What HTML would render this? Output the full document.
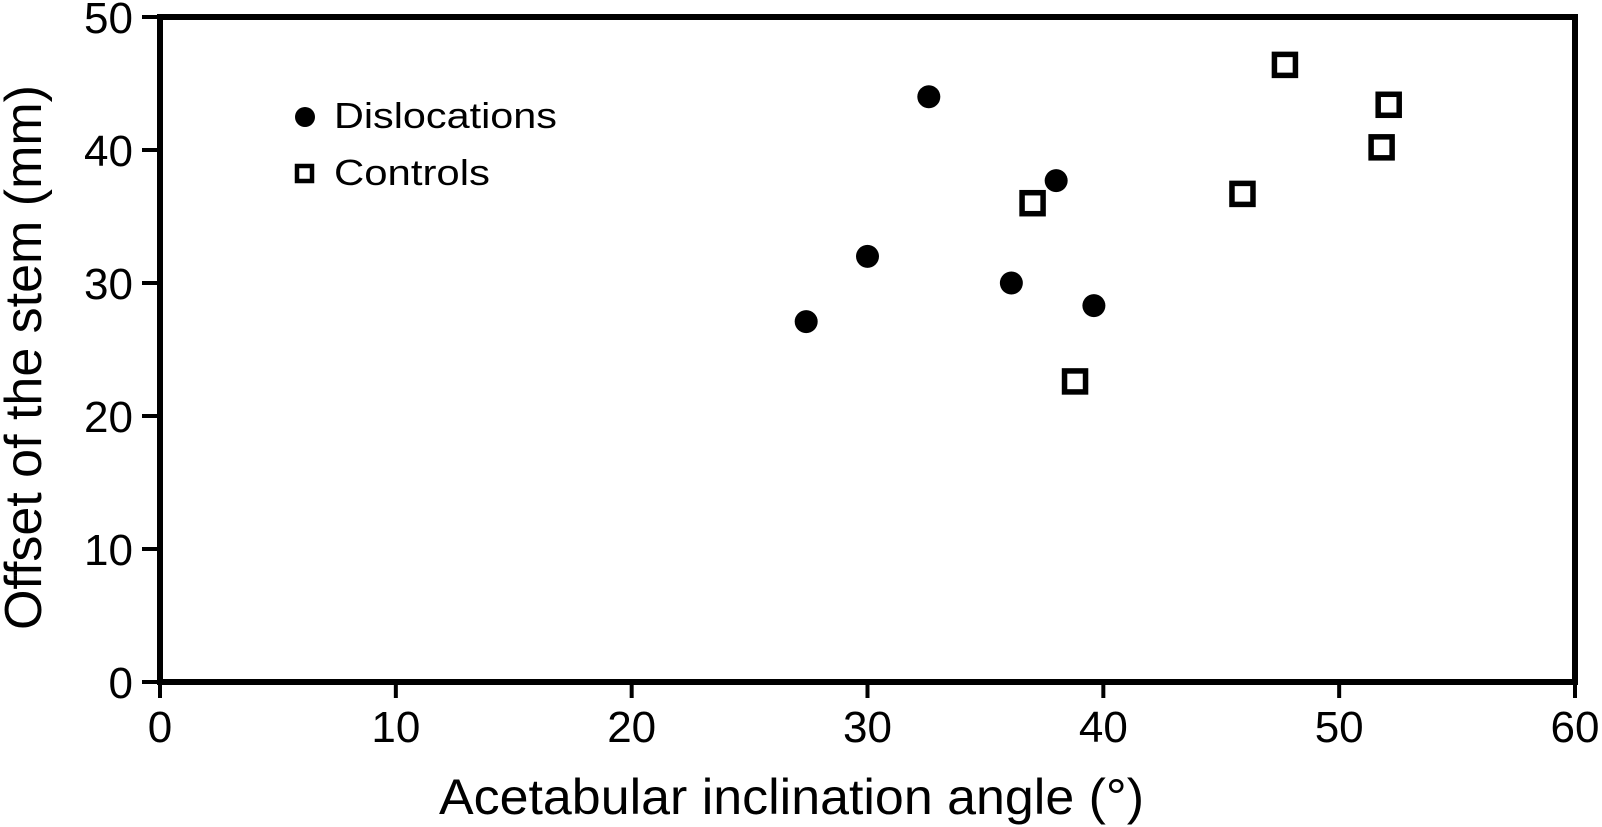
<!DOCTYPE html>
<html><head><meta charset="utf-8"><style>
html,body{margin:0;padding:0;background:#fff;}
svg{display:block;font-family:"Liberation Sans",Arial,sans-serif;}
</style></head><body>
<svg id="chart" width="1602" height="827" viewBox="0 0 1602 827" xmlns="http://www.w3.org/2000/svg">
<rect x="160" y="17" width="1415" height="665" fill="none" stroke="#000" stroke-width="6"/>
<g id="xticks"></g>
<g id="yticks"></g>
<text x="439" y="814" font-size="50" textLength="705" lengthAdjust="spacingAndGlyphs">Acetabular inclination angle (°)</text>
<text transform="translate(41,630) rotate(-90)" x="0" y="0" font-size="52" textLength="545" lengthAdjust="spacingAndGlyphs">Offset of the stem (mm)</text>
<g>
<circle cx="305" cy="117" r="10" fill="#000"/>
<text x="334" y="128" font-size="36" textLength="223" lengthAdjust="spacingAndGlyphs">Dislocations</text>
<rect x="297" y="166" width="15" height="15" fill="#fff" stroke="#000" stroke-width="4.5"/>
<text x="334" y="185" font-size="36" textLength="156" lengthAdjust="spacingAndGlyphs">Controls</text>
</g>
<g id="marks"></g>
</svg>
<script>
const xTicks = [0,10,20,30,40,50,60];
const yTicks = [0,10,20,30,40,50];
const dislocX = [32.6, 38.0, 30.0, 36.1, 27.4, 39.6];
const dislocY = [44.0, 37.7, 32.0, 30.0, 27.1, 28.3];
const controlX = [37.0, 38.8, 47.7, 52.1, 51.8, 45.9];
const controlY = [36.0, 22.6, 46.4, 43.4, 40.2, 36.7];

const NS = "http://www.w3.org/2000/svg";
const X0 = 160, X1 = 1575, Y0 = 682, Y1 = 17;
function sx(v){ return X0 + (v - 0) / 60 * (X1 - X0); }
function sy(v){ return Y0 - (v - 0) / 50 * (Y0 - Y1); }
function mk(tag, attrs){ const e = document.createElementNS(NS, tag); for (const k in attrs) e.setAttribute(k, attrs[k]); return e; }

const xg = document.getElementById('xticks');
xTicks.forEach(t => {
  const l = mk('line', {x1: sx(t), x2: sx(t), y1: Y0, y2: Y0 + 16, stroke: '#000', 'stroke-width': 4});
  
  
  xg.appendChild(l);
  const tx = mk('text', {x: sx(t), y: 742, 'font-size': 44, 'text-anchor': 'middle'});
  
  
  tx.textContent = t;
  xg.appendChild(tx);
});
const yg = document.getElementById('yticks');
yTicks.forEach(t => {
  const l = mk('line', {x1: X0 - 18, x2: X0, y1: sy(t), y2: sy(t), stroke: '#000', 'stroke-width': 4});
  
  
  yg.appendChild(l);
  const tx = mk('text', {x: 133, y: sy(t) + 16, 'font-size': 44, 'text-anchor': 'end'});
  
  
  tx.textContent = t;
  yg.appendChild(tx);
});
const mg = document.getElementById('marks');
dislocX.forEach((v, i) => {
  const c = mk('circle', {cx: sx(v), cy: sy(dislocY[i]), r: 11.5, fill: '#000'});
  
  
  mg.appendChild(c);
});
controlX.forEach((v, i) => {
  const r = mk('rect', {x: sx(v) - 10.5, y: sy(controlY[i]) - 10.5, width: 21, height: 21, fill: '#fff', stroke: '#000', 'stroke-width': 5.5});
  
  
  mg.appendChild(r);
});
</script>
</body></html>
